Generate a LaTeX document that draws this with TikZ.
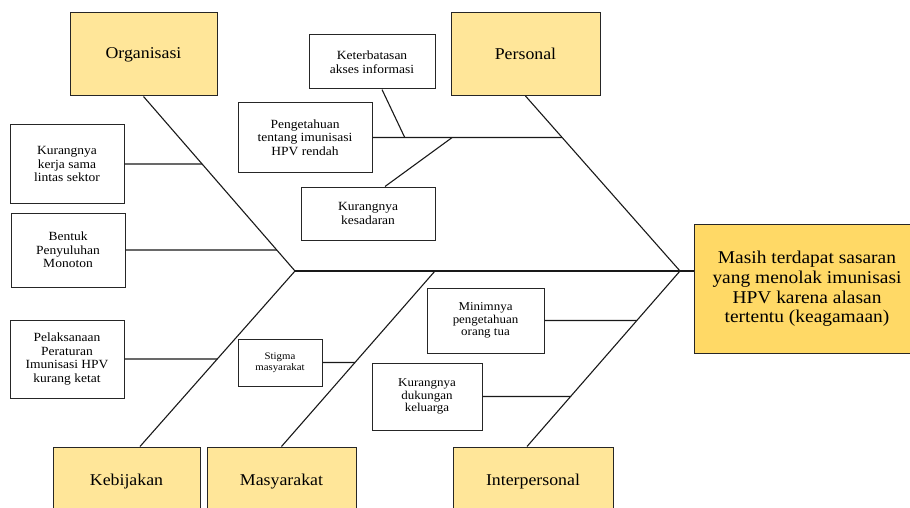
\documentclass[tikz,border=0pt]{standalone}
\usepackage{fontspec}
\setmainfont[FakeStretch=1.08]{Liberation Serif}
\usetikzlibrary{calc}
\definecolor{catfill}{HTML}{FFE699}
\definecolor{headfill}{HTML}{FFD966}
\tikzset{
	cat/.style={draw=black!85, fill=catfill, line width=1pt, inner sep=0, minimum width=#1, minimum height=83, font=\fontsize{16.5}{19}\selectfont},
	head/.style={draw=black!85, fill=headfill, line width=1pt, inner sep=0, minimum width=226, minimum height=129, align=center, font=\fontsize{18}{19.7}\selectfont},
	cause/.style 2 args={draw=black!85, fill=white, line width=1pt, inner sep=0, minimum width=#1, minimum height=#2, align=center, font=\fontsize{12.5}{13.6}\selectfont},
	bone/.style={line width=1.1pt, black!90}
}

\begin{document}
\begin{tikzpicture}[x=1pt, y=-1pt]
			%%%%% START %%%%%
			\clip (0, 0) rectangle (910, 508);
			
			\node[head] (effect) at (807, 289) {Masih terdapat sasaran\\yang menolak imunisasi\\HPV karena alasan\\tertentu (keagamaan)};
			
			\node[cat=147] (org) at (143.5, 54.5) {Organisasi};
			\node[cat=149] (per) at (525.5, 54) {Personal};
			\node[cat=147, minimum height=70] (keb) at (126.5, 482) {Kebijakan};
			\node[cat=149, minimum height=70] (mas) at (281.5, 482) {Masyarakat};
			\node[cat=160, minimum height=70] (inter) at (533, 482) {Interpersonal};
			
			\coordinate (tail) at (295, 271);
			\coordinate (tip) at (680, 271);
			\coordinate (m1) at (435, 271);
			\coordinate (kb) at ([xshift=13.5]keb.north);
			\coordinate (ib) at ([xshift=-6]inter.north);
			
			\draw[bone] (tail) -- (tip) -- (tip -| effect.west);
			\draw[bone] (org.south) -- (tail);
			\draw[bone] (kb) -- (tail);
			\draw[bone] (mas.north) -- (m1);
			\draw[bone] (per.south) -- (tip);
			\draw[bone] (ib) -- (tip);
			
			% organisasi
			\node[cause={114}{78}] (kerja) at (67, 164) {Kurangnya\\kerja sama\\lintas sektor};
			\node[cause={114}{74}] (peny) at (68, 250) {Bentuk\\Penyuluhan\\Monoton};
			\draw[bone] (kerja.east) -- (intersection of kerja.east--kerja.west and org.south--tail);
			\draw[bone] (peny.east) -- (intersection of peny.east--peny.west and org.south--tail);
			
			% kebijakan
			\node[cause={114}{78}] (pel) at (67, 359) {Pelaksanaan\\Peraturan\\Imunisasi HPV\\kurang ketat};
			\draw[bone] (pel.east) -- (intersection of pel.east--pel.west and kb--tail);
			
			% masyarakat
			\node[cause={84}{47}, font=\fontsize{10}{11.3}\selectfont] (stig) at (280, 362.5) {Stigma\\masyarakat};
			\draw[bone] (stig.east) -- (intersection of stig.east--stig.west and mas.north--m1);
			
			% personal
			\node[cause={126}{54}] (ket) at (372, 62) {Keterbatasan\\akses informasi};
			\node[cause={134}{70}] (peng) at (305, 137.5) {Pengetahuan\\tentang imunisasi\\HPV rendah};
			\node[cause={134}{53}] (kes) at (368, 213.5) {Kurangnya\\kesadaran};
			\coordinate (p1) at (intersection of peng.east--peng.west and per.south--tip);
			\draw[bone] (peng.east) -- (p1);
			\draw[bone] ([xshift=10]ket.south) -- ($(peng.east)!0.17!(p1)$);
			\draw[bone] ([xshift=17]kes.north) -- ($(peng.east)!0.42!(p1)$);
			
			% interpersonal
			\node[cause={117}{65}, font=\fontsize{12}{12.6}\selectfont] (min) at (485.5, 320.5) {Minimnya\\pengetahuan\\orang tua};
			\node[cause={110}{67}, font=\fontsize{12}{12.8}\selectfont] (duk) at (427, 396.5) {Kurangnya\\dukungan\\keluarga};
			\draw[bone] (min.east) -- (intersection of min.east--min.west and ib--tip);
			\draw[bone] (duk.east) -- (intersection of duk.east--duk.west and ib--tip);
			
			%%%%% END %%%%%
		\end{tikzpicture}
\end{document}
